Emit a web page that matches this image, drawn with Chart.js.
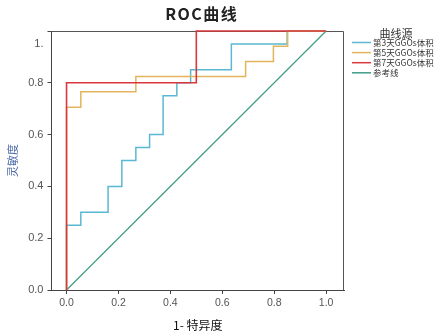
<!DOCTYPE html>
<html><head><meta charset="utf-8">
<script src="https://cdn.jsdelivr.net/npm/chart.js@4.4.1/dist/chart.umd.min.js"></script>
<style>html,body{margin:0;padding:0;background:#fff}#wrap{width:441px;height:336px}</style>
</head><body><div id="wrap"><canvas id="c" width="441" height="336"></canvas></div>
<script>
const chartTitle = 'ROC曲线';
const legendTitle = '曲线源';
const seriesNames = ['第3天GGOs体积', '第5天GGOs体积', '第7天GGOs体积', '参考线'];
const seriesColors = ['#5ab8d3', '#e2b55c', '#d8383c', '#3f9c86'];

const day3Fpr = [0, 0, 0.055, 0.055, 0.16, 0.16, 0.213, 0.213, 0.267, 0.267, 0.32, 0.32, 0.372, 0.372, 0.425, 0.425, 0.478, 0.478, 0.635, 0.635, 0.85, 0.85, 1];
const day3Tpr = [0, 0.25, 0.25, 0.30, 0.30, 0.40, 0.40, 0.50, 0.50, 0.55, 0.55, 0.60, 0.60, 0.75, 0.75, 0.80, 0.80, 0.85, 0.85, 0.95, 0.95, 1, 1];
const day5Fpr = [0, 0, 0.055, 0.055, 0.267, 0.267, 0.69, 0.69, 0.797, 0.797, 0.852, 0.852, 1];
const day5Tpr = [0, 0.706, 0.706, 0.765, 0.765, 0.824, 0.824, 0.882, 0.882, 0.941, 0.941, 1, 1];
const day7Fpr = [0, 0, 0.5, 0.5, 1];
const day7Tpr = [0, 0.8, 0.8, 1, 1];
const refFpr = [0, 1];
const refTpr = [0, 1];

const xTickValues = [0, 0.2, 0.4, 0.6, 0.8, 1.0];
const xTickLabels = ['0.0', '0.2', '0.4', '0.6', '0.8', '1.0'];
const yTickValues = [0, 0.2, 0.4, 0.6, 0.8, 1.0];
const yTickLabels = ['0.0', '0.2', '0.4', '0.6', '0.8', '1.'];
const xAxisTitle = '1- 特异度';
const yAxisTitle = '灵敏度';

function pts(xs, ys) { return xs.map((x, i) => ({x: x, y: ys[i]})); }

const allX = [day3Fpr, day5Fpr, day7Fpr, refFpr];
const allY = [day3Tpr, day5Tpr, day7Tpr, refTpr];
const drawOrder = [2, 1, 0, 3];
const widths = [1.5, 1.5, 1.6, 1.2];

const datasets = seriesNames.map((n, i) => ({
  label: n,
  data: pts(allX[i], allY[i]),
  borderColor: seriesColors[i],
  backgroundColor: seriesColors[i],
  borderWidth: widths[i],
  pointRadius: 0,
  showLine: true,
  tension: 0,
  clip: 4,
  order: drawOrder[i]
}));

const frame = {
  id: 'frame',
  beforeDatasetsDraw(chart) {
    const a = chart.chartArea, ctx = chart.ctx;
    ctx.save();
    ctx.strokeStyle = '#555';
    ctx.lineWidth = 1;
    ctx.beginPath();
    ctx.moveTo(a.left, a.top + 0.5);
    ctx.lineTo(a.right - 0.5, a.top + 0.5);
    ctx.lineTo(a.right - 0.5, a.bottom);
    ctx.stroke();
    ctx.restore();
  },
  afterDraw(chart) {
    const a = chart.chartArea, ctx = chart.ctx;
    ctx.save();
    // chart title
    ctx.fillStyle = '#222';
    ctx.font = 'bold 16px "Noto Sans CJK SC", "Liberation Sans", sans-serif';
    if ('letterSpacing' in ctx) ctx.letterSpacing = '1.5px';
    ctx.textAlign = 'center';
    ctx.textBaseline = 'middle';
    ctx.fillText(chartTitle, (a.left + a.right) / 2 + 4, 14);
    if ('letterSpacing' in ctx) ctx.letterSpacing = '0px';
    // top y tick label
    const ys = chart.scales.y;
    ctx.font = '11px "Liberation Sans", sans-serif';
    ctx.fillStyle = '#555';
    ctx.textAlign = 'right';
    ctx.fillText(yTickLabels[5], a.left - 8, ys.getPixelForValue(yTickValues[5]) + 13);
    // legend
    const lx = a.right + 8;
    ctx.textAlign = 'center';
    ctx.fillStyle = '#333';
    ctx.font = '11px "Noto Sans CJK SC", sans-serif';
    ctx.fillText(legendTitle, lx + 44, a.top + 3);
    ctx.textAlign = 'left';
    ctx.font = '8.5px "Noto Sans CJK SC", sans-serif';
    chart.data.datasets.forEach((ds, i) => {
      const y = a.top + 11.5 + i * 10.1;
      ctx.strokeStyle = ds.borderColor;
      ctx.lineWidth = 1.5;
      ctx.beginPath();
      ctx.moveTo(lx, y);
      ctx.lineTo(lx + 19, y);
      ctx.stroke();
      ctx.fillStyle = '#333';
      ctx.fillText(ds.label, lx + 21, y);
    });
    ctx.restore();
  }
};

new Chart(document.getElementById('c'), {
  type: 'scatter',
  data: {datasets: datasets},
  options: {
    responsive: false,
    animation: false,
    layout: {padding: {top: 31, left: 2, right: 97, bottom: 2}},
    plugins: {
      title: {display: false},
      tooltip: {enabled: false},
      legend: {display: false}
    },
    scales: {
      x: {
        type: 'linear',
        min: -0.058, max: 1.069,
        afterBuildTicks(s) { s.ticks = xTickValues.map(v => ({value: v})); },
        ticks: {
          callback: (v, i) => xTickLabels[i],
          color: '#555', padding: 3, maxRotation: 0,
          font: {size: 10.5, family: '"Liberation Sans", sans-serif'}
        },
        grid: {display: true, drawOnChartArea: false, tickLength: 4, color: '#444'},
        border: {color: '#444', width: 1},
        title: {display: true, text: xAxisTitle, color: '#111', padding: {top: 6, bottom: 1},
          font: {size: 12, family: '"Noto Sans CJK SC", serif'}}
      },
      y: {
        type: 'linear',
        min: 0, max: 1,
        afterBuildTicks(s) { s.ticks = yTickValues.map(v => ({value: v})); },
        ticks: {
          callback: (v, i) => i === 5 ? '' : yTickLabels[i],
          color: '#555', padding: 4,
          font: {size: 11, family: '"Liberation Sans", sans-serif'}
        },
        grid: {display: true, drawOnChartArea: false, tickLength: 4, color: '#444'},
        border: {color: '#444', width: 1},
        title: {display: true, text: yAxisTitle, color: '#4a68a8', padding: {top: 4, bottom: 5},
          font: {size: 11, family: '"Noto Sans CJK SC", sans-serif'}}
      }
    }
  },
  plugins: [frame]
});
</script></body></html>
